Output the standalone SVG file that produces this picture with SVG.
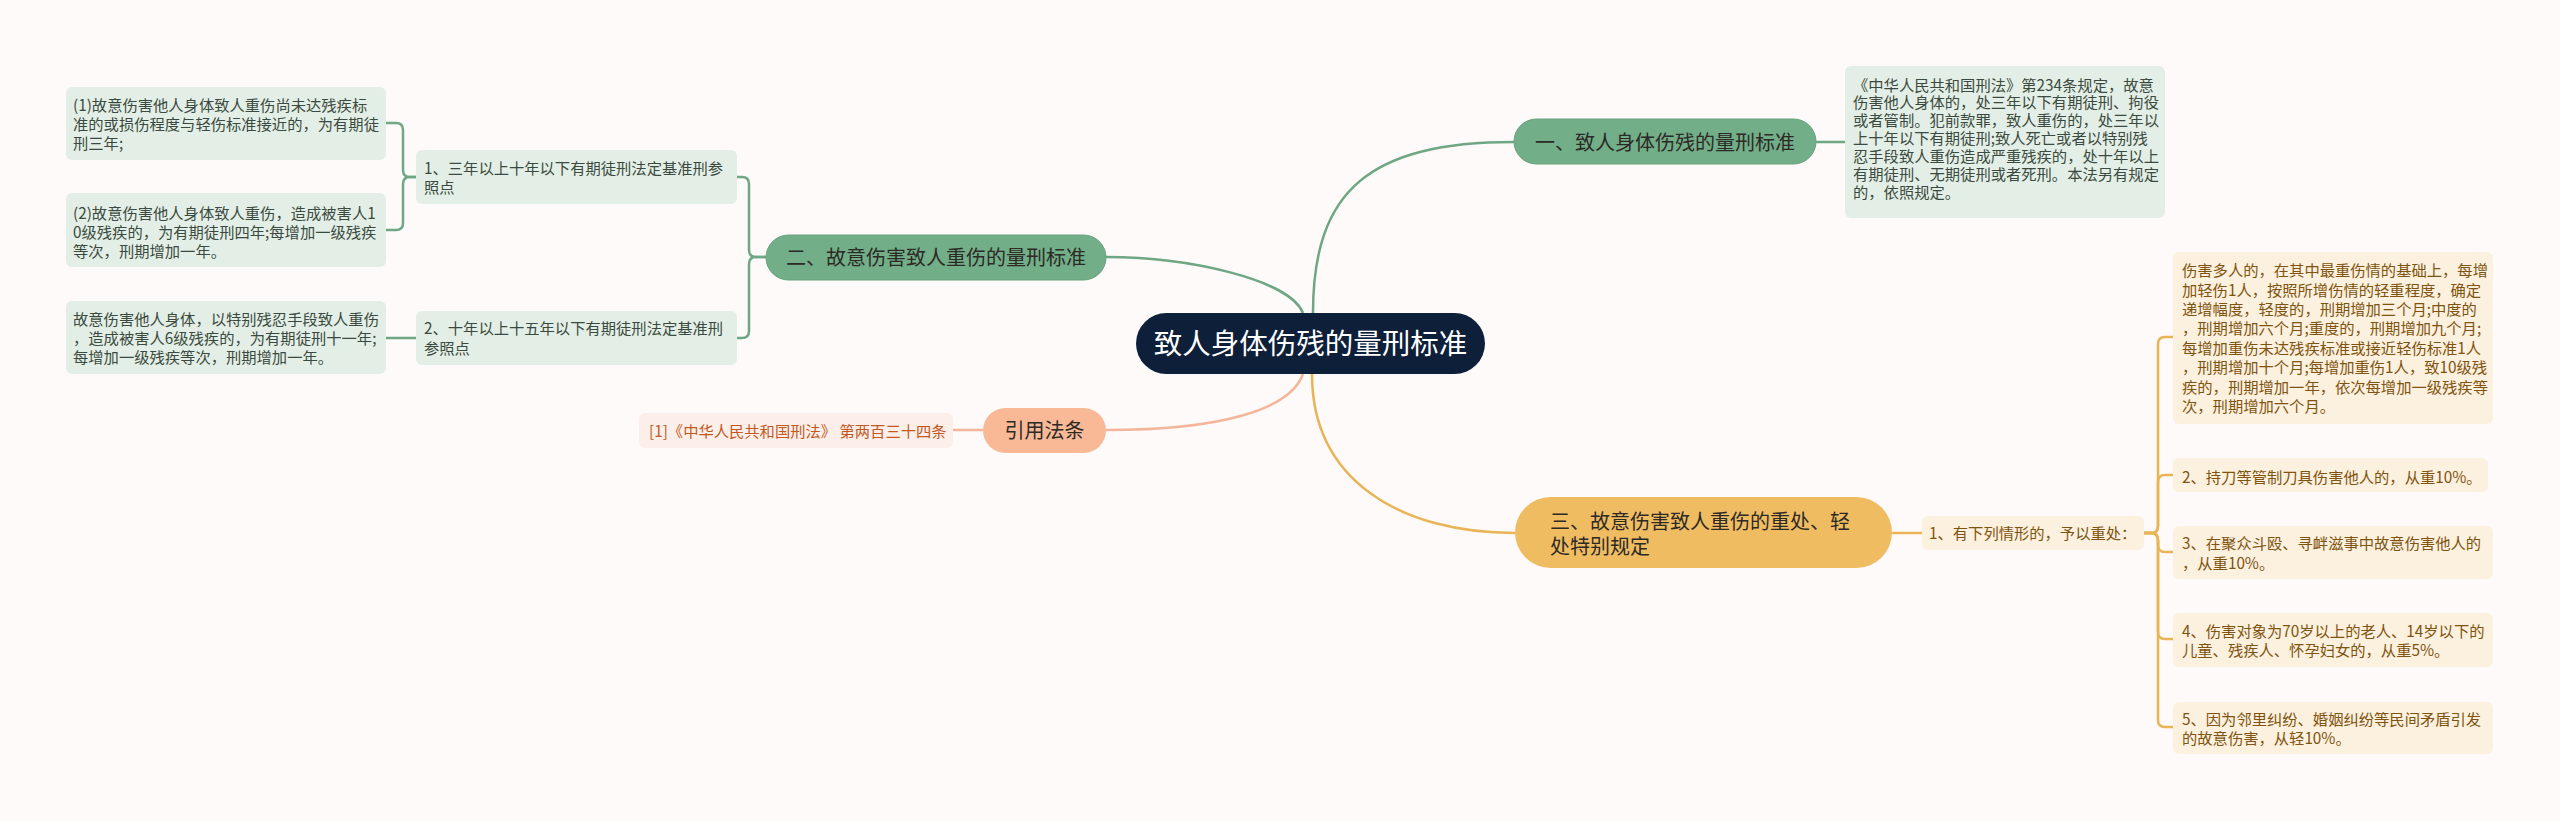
<svg xmlns="http://www.w3.org/2000/svg" width="2560" height="821" viewBox="0 0 2560 821">
<style>
text{font-family:"Noto Sans CJK SC","Noto Sans",sans-serif;}
.g{fill:none;stroke:#6fa683;stroke-width:2.5;}
.y{fill:none;stroke:#e8b456;stroke-width:2.5;}
.p{fill:none;stroke:#f4b69a;stroke-width:2.5;}
.gl{fill:#e3efe6;}
.gt{font-size:15.3px;fill:#3b4a40;}
.yl{fill:#fcf0de;}
.yt{font-size:15.3px;fill:#80540f;}
.m{font-size:20px;fill:#2c2a25;}
</style>
<rect width="2560" height="821" fill="#fdfaf9"/>
<g id="connectors">
<path class="g" d="M1313,313 C1313,190 1370,142 1514,142"/>
<path class="g" d="M1303,313 C1290,280 1190,257 1106,257"/>
<path class="g" d="M1816,142 H1845"/>
<path class="g" d="M766,257 H756 Q749,257 749,250 V184 Q749,177 742,177 H737"/>
<path class="g" d="M766,257 H756 Q749,257 749,264 V331 Q749,338 742,338 H737"/>
<path class="g" d="M416,177 H410 Q403,177 403,170 V130 Q403,123 396,123 H386"/>
<path class="g" d="M416,177 H410 Q403,177 403,184 V223 Q403,230 396,230 H386"/>
<path class="g" d="M416,338 H386"/>
<path class="p" d="M1303,374 C1290,410 1220,430 1106,430"/>
<path class="p" d="M983,430 H953"/>
<path class="y" d="M1312,374 C1312,480 1400,533 1515,533"/>
<path class="y" d="M1892,533 H1922"/>
<path class="y" d="M2144,533 H2151 Q2158,533 2158,526 V344 Q2158,337 2165,337 H2173"/>
<path class="y" d="M2144,533 H2151 Q2158,533 2158,526 V482 Q2158,475 2165,475 H2173"/>
<path class="y" d="M2144,533 H2151 Q2158,533 2158,540 V545 Q2158,552 2165,552 H2173"/>
<path class="y" d="M2144,533 H2151 Q2158,533 2158,540 V632 Q2158,639 2165,639 H2173"/>
<path class="y" d="M2144,533 H2151 Q2158,533 2158,540 V720 Q2158,727 2165,727 H2173"/>
</g>
<g id="root">
<rect x="1136" y="313" width="349" height="61" rx="30.5" fill="#0e1f3a"/>
<text x="1310.5" y="354" font-size="28.5" fill="#ffffff" text-anchor="middle">致人身体伤残的量刑标准</text>
</g>
<g id="n1">
<rect x="1514" y="119" width="302" height="45" rx="22.5" fill="#72ae88" stroke="#68a27e" stroke-width="1"/>
<text x="1665" y="150" class="m" text-anchor="middle">一、致人身体伤残的量刑标准</text>
</g>
<g id="n1-1">
<rect x="1845" y="66" width="320" height="152" rx="6" class="gl"/>
<text class="gt" x="1853" y="90.5">《中华人民共和国刑法》第234条规定，故意</text>
<text class="gt" x="1853" y="108.4">伤害他人身体的，处三年以下有期徒刑、拘役</text>
<text class="gt" x="1853" y="126.3">或者管制。犯前款罪，致人重伤的，处三年以</text>
<text class="gt" x="1853" y="144.2">上十年以下有期徒刑;致人死亡或者以特别残</text>
<text class="gt" x="1853" y="162.1">忍手段致人重伤造成严重残疾的，处十年以上</text>
<text class="gt" x="1853" y="180">有期徒刑、无期徒刑或者死刑。本法另有规定</text>
<text class="gt" x="1853" y="197.9">的，依照规定。</text>
</g>
<g id="n2">
<rect x="766" y="235" width="340" height="45" rx="22.5" fill="#72ae88" stroke="#68a27e" stroke-width="1"/>
<text x="936" y="264.5" class="m" text-anchor="middle">二、故意伤害致人重伤的量刑标准</text>
</g>
<g id="n2-1">
<rect x="416" y="150" width="321" height="54" rx="6" class="gl"/>
<text class="gt" x="424" y="174">1、三年以上十年以下有期徒刑法定基准刑参</text>
<text class="gt" x="424" y="193">照点</text>
</g>
<g id="n2-2">
<rect x="416" y="311" width="321" height="54" rx="6" class="gl"/>
<text class="gt" x="424" y="334">2、十年以上十五年以下有期徒刑法定基准刑</text>
<text class="gt" x="424" y="354">参照点</text>
</g>
<g id="n2-1-1">
<rect x="66" y="87" width="320" height="73" rx="6" class="gl"/>
<text class="gt" x="73" y="110.8">(1)故意伤害他人身体致人重伤尚未达残疾标</text>
<text class="gt" x="73" y="129.8">准的或损伤程度与轻伤标准接近的，为有期徒</text>
<text class="gt" x="73" y="148.8">刑三年;</text>
</g>
<g id="n2-1-2">
<rect x="66" y="193" width="320" height="74" rx="6" class="gl"/>
<text class="gt" x="73" y="218.5">(2)故意伤害他人身体致人重伤，造成被害人1</text>
<text class="gt" x="73" y="238">0级残疾的，为有期徒刑四年;每增加一级残疾</text>
<text class="gt" x="73" y="257">等次，刑期增加一年。</text>
</g>
<g id="n2-2-1">
<rect x="66" y="301" width="320" height="73" rx="6" class="gl"/>
<text class="gt" x="73" y="325">故意伤害他人身体，以特别残忍手段致人重伤</text>
<text class="gt" x="73" y="344">，造成被害人6级残疾的，为有期徒刑十一年;</text>
<text class="gt" x="73" y="363">每增加一级残疾等次，刑期增加一年。</text>
</g>
<g id="ref">
<rect x="983" y="408" width="123" height="45" rx="22.5" fill="#f9b997"/>
<text x="1044.5" y="437.6" class="m" text-anchor="middle">引用法条</text>
</g>
<g id="ref-1">
<rect x="639" y="413" width="314" height="35" rx="6" fill="#fcefe9"/>
<text x="649" y="436.5" font-size="15.3" fill="#c4581f">[1]《中华人民共和国刑法》 第两百三十四条</text>
</g>
<g id="n3">
<rect x="1515" y="497" width="377" height="71" rx="35.5" fill="#f0bc62"/>
<text x="1550" y="528.5" class="m">三、故意伤害致人重伤的重处、轻</text>
<text x="1550" y="553.5" class="m">处特别规定</text>
</g>
<g id="n3-1">
<rect x="1922" y="516" width="222" height="34" rx="6" class="yl"/>
<text class="yt" x="1929" y="538.5">1、有下列情形的，予以重处：</text>
</g>
<g id="n3-1-1">
<rect x="2173" y="252" width="320" height="172" rx="6" class="yl"/>
<text class="yt" x="2182" y="276.2">伤害多人的，在其中最重伤情的基础上，每增</text>
<text class="yt" x="2182" y="295.6">加轻伤1人，按照所增伤情的轻重程度，确定</text>
<text class="yt" x="2182" y="315">递增幅度，轻度的，刑期增加三个月;中度的</text>
<text class="yt" x="2182" y="334.4">，刑期增加六个月;重度的，刑期增加九个月;</text>
<text class="yt" x="2182" y="353.8">每增加重伤未达残疾标准或接近轻伤标准1人</text>
<text class="yt" x="2182" y="373.2">，刑期增加十个月;每增加重伤1人，致10级残</text>
<text class="yt" x="2182" y="392.6">疾的，刑期增加一年，依次每增加一级残疾等</text>
<text class="yt" x="2182" y="412">次，刑期增加六个月。</text>
</g>
<g id="n3-1-2">
<rect x="2173" y="458" width="315" height="34" rx="6" class="yl"/>
<text class="yt" x="2182" y="482.5">2、持刀等管制刀具伤害他人的，从重10%。</text>
</g>
<g id="n3-1-3">
<rect x="2173" y="526" width="320" height="53" rx="6" class="yl"/>
<text class="yt" x="2182" y="549">3、在聚众斗殴、寻衅滋事中故意伤害他人的</text>
<text class="yt" x="2182" y="569">，从重10%。</text>
</g>
<g id="n3-1-4">
<rect x="2173" y="613" width="320" height="54" rx="6" class="yl"/>
<text class="yt" x="2182" y="636.5">4、伤害对象为70岁以上的老人、14岁以下的</text>
<text class="yt" x="2182" y="655.5">儿童、残疾人、怀孕妇女的，从重5%。</text>
</g>
<g id="n3-1-5">
<rect x="2173" y="702" width="320" height="52" rx="6" class="yl"/>
<text class="yt" x="2182" y="725">5、因为邻里纠纷、婚姻纠纷等民间矛盾引发</text>
<text class="yt" x="2182" y="744">的故意伤害，从轻10%。</text>
</g>
</svg>
